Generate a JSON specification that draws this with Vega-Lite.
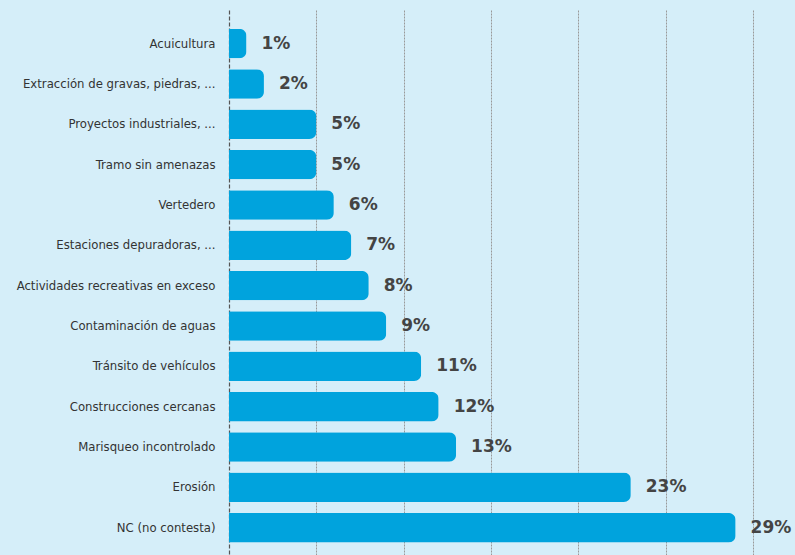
{
  "$schema": "https://vega.github.io/schema/vega-lite/v6.json",
  "autosize": "none",
  "padding": {"left": 229, "top": 10, "right": 0, "bottom": 0},
  "width": 566,
  "height": 545,
  "background": "#d5eef9",
  "config": {"view": {"stroke": null}},
  "data": {"values": [
    {"cat": "Acuicultura", "v": 1},
    {"cat": "Extracción de gravas, piedras, ...", "v": 2},
    {"cat": "Proyectos industriales, ...", "v": 5},
    {"cat": "Tramo sin amenazas", "v": 5},
    {"cat": "Vertedero", "v": 6},
    {"cat": "Estaciones depuradoras, ...", "v": 7},
    {"cat": "Actividades recreativas en exceso", "v": 8},
    {"cat": "Contaminación de aguas", "v": 9},
    {"cat": "Tránsito de vehículos", "v": 11},
    {"cat": "Construcciones cercanas", "v": 12},
    {"cat": "Marisqueo incontrolado", "v": 13},
    {"cat": "Erosión", "v": 23},
    {"cat": "NC (no contesta)", "v": 29}
  ]},
  "transform": [{"calculate": "datum.v + '%'", "as": "label"}],
  "encoding": {
    "y": {"field": "cat", "type": "nominal", "sort": null,
      "scale": {"paddingInner": 0.27, "paddingOuter": 0.39, "align": 0.6},
      "axis": {"title": null, "ticks": false, "labelPadding": 14, "labelLimit": 300, "labelFont": "DejaVu Sans Condensed, sans-serif", "labelFontSize": 13, "labelColor": "#333333", "domainColor": "#555555", "domainDash": [4, 2], "domainWidth": 1.2}},
    "x": {"field": "v", "type": "quantitative",
      "scale": {"domain": [0, 32.4], "nice": false},
      "axis": {"title": null, "labels": false, "ticks": false, "domain": false, "values": [5, 10, 15, 20, 25, 30], "grid": true, "gridColor": "#999999", "gridDash": [2, 1], "gridWidth": 1}}
  },
  "layer": [
    {"mark": {"type": "bar", "color": "#00a3dd", "cornerRadiusEnd": 7}},
    {"mark": {"type": "text", "align": "left", "baseline": "middle", "dx": 15, "font": "DejaVu Sans", "fontWeight": "bold", "fontSize": 17, "color": "#444444"},
     "encoding": {"text": {"field": "label", "type": "nominal"}}}
  ]
}
